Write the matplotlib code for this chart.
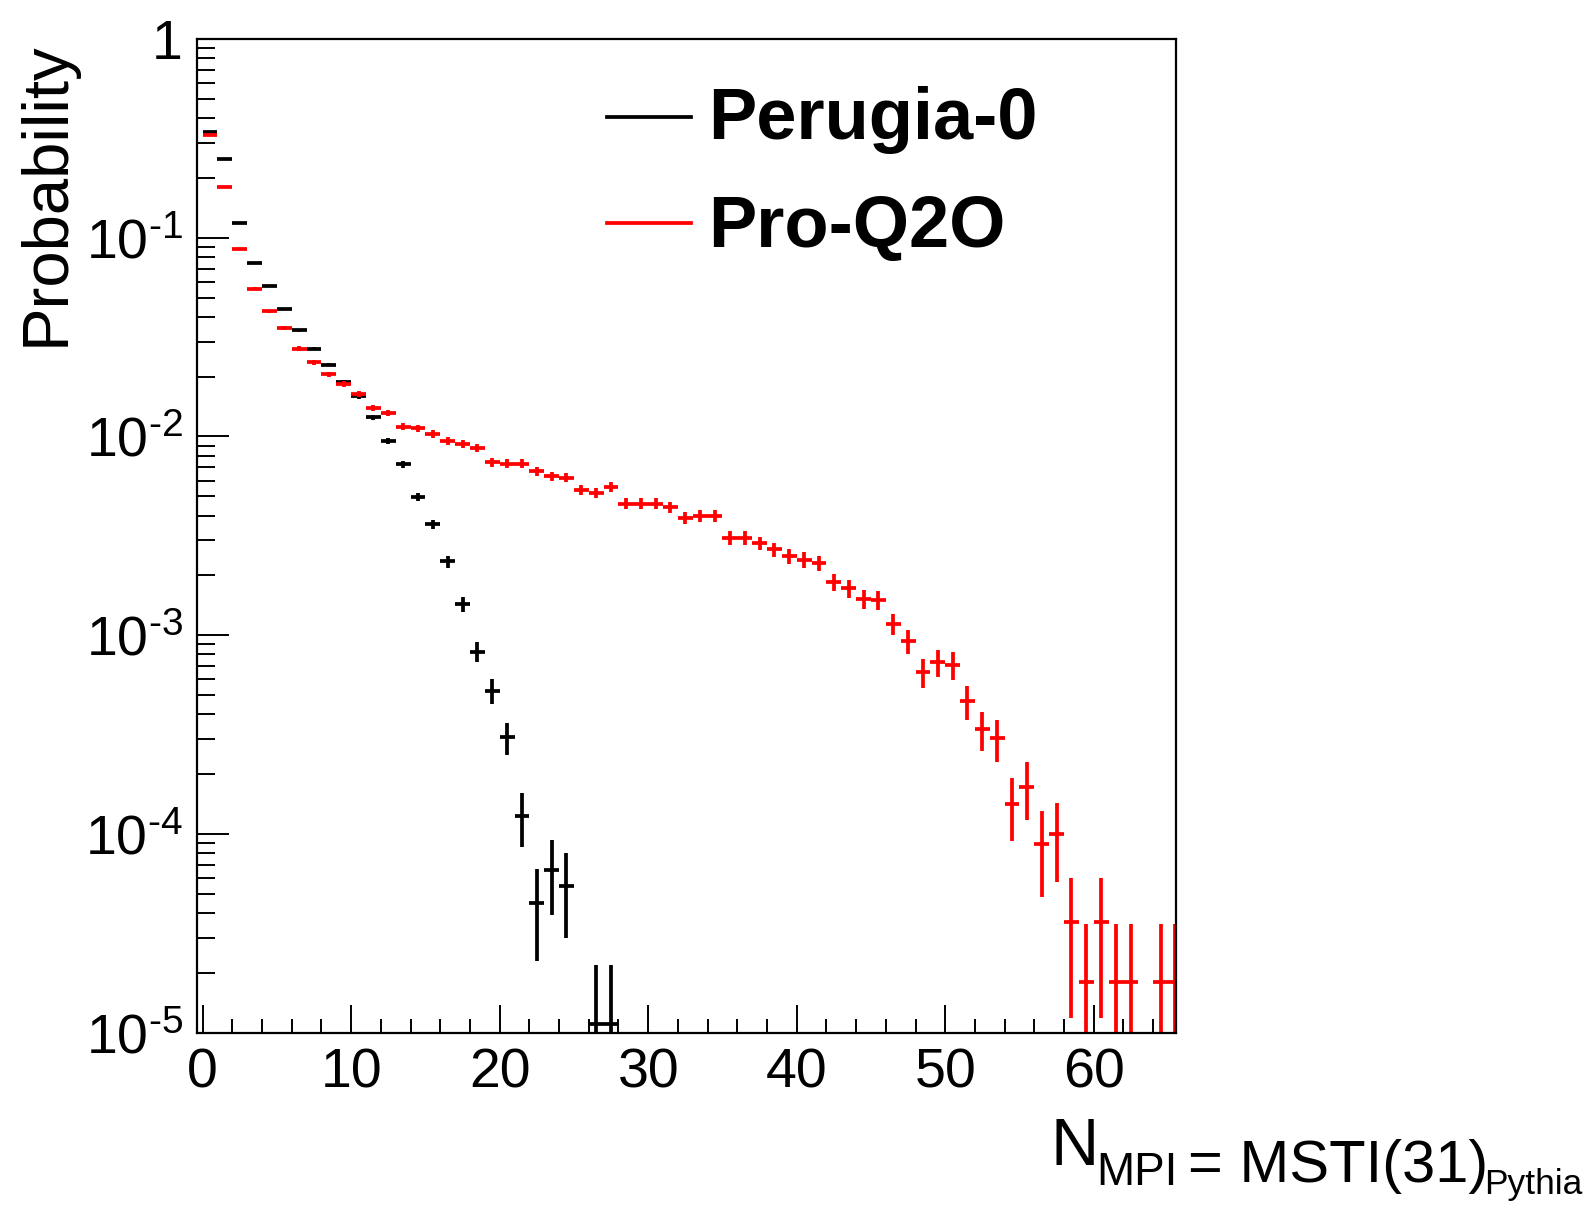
import numpy as np
import matplotlib
matplotlib.use('Agg')
import matplotlib.pyplot as plt
from matplotlib.lines import Line2D
from matplotlib.ticker import MultipleLocator, LogLocator, NullFormatter, FuncFormatter

plt.rcParams['font.family'] = ['Liberation Sans', 'DejaVu Sans']
plt.rcParams['mathtext.fontset'] = 'custom'
plt.rcParams['mathtext.rm'] = 'Liberation Sans'
plt.rcParams['mathtext.it'] = 'Liberation Sans:italic'
plt.rcParams['mathtext.bf'] = 'Liberation Sans:bold'

# Probability per N_MPI bin (bin k covers [k, k+1))
perugia = [0.339, 0.249, 0.118, 0.0747, 0.0571, 0.0438, 0.0343, 0.0277, 0.0230,
           0.0188, 0.0159, 0.0125, 0.0095, 0.00726, 0.00497, 0.00362, 0.00235,
           0.00143, 0.000827, 0.000527, 0.000306, 0.000123, 4.5e-5, 6.6e-5,
           5.5e-5, 0, 1.1e-5, 1.1e-5]
perugia_err = [1.9e-3, 1.65e-3, 1.14e-3, 9.1e-4, 7.9e-4, 6.9e-4, 6.1e-4, 5.5e-4,
               5.0e-4, 4.5e-4, 4.2e-4, 3.7e-4, 3.2e-4, 2.8e-4, 2.3e-4, 2.0e-4,
               1.6e-4, 1.25e-4, 0.95e-4, 0.76e-4, 0.55e-4, 0.37e-4, 2.2e-5, 2.7e-5,
               2.5e-5, 0, 1.1e-5, 1.1e-5]

proq2o = [0.327, 0.180, 0.0880, 0.0555, 0.0426, 0.0352, 0.0277, 0.0236, 0.0206,
          0.0184, 0.0164, 0.0139, 0.0131, 0.0112, 0.0110, 0.0103, 0.0095, 0.0092,
          0.0088, 0.0074, 0.0073, 0.0073, 0.0067, 0.0063, 0.0062, 0.0054, 0.0052,
          0.0056, 0.0046, 0.0046, 0.0046, 0.0044, 0.0039, 0.0040, 0.0040, 0.0031,
          0.0031, 0.0029, 0.0027, 0.0025, 0.0024, 0.0023, 0.00185, 0.00172,
          0.00152, 0.00150, 0.00114, 0.00093, 0.00065, 0.00073, 0.00071,
          4.66e-4, 3.36e-4, 3.03e-4, 1.42e-4, 1.73e-4, 8.9e-5, 1.0e-4, 3.59e-5,
          1.79e-5, 3.59e-5, 1.79e-5, 1.79e-5, 0, 1.79e-5, 1.79e-5]
proq2o_err = [2.4e-3, 1.8e-3, 1.25e-3, 1.0e-3, 8.7e-4, 7.9e-4, 7.0e-4, 6.5e-4,
              6.1e-4, 5.7e-4, 5.4e-4, 5.0e-4, 4.8e-4, 4.5e-4, 4.4e-4, 4.3e-4,
              4.1e-4, 4.1e-4, 4.0e-4, 3.6e-4, 3.6e-4, 3.6e-4, 3.5e-4, 3.4e-4,
              3.3e-4, 3.1e-4, 3.05e-4, 3.2e-4, 2.9e-4, 2.9e-4, 2.9e-4, 2.8e-4,
              2.6e-4, 2.7e-4, 2.7e-4, 2.4e-4, 2.4e-4, 2.3e-4, 2.2e-4, 2.1e-4,
              2.1e-4, 2.0e-4, 1.8e-4, 1.75e-4, 1.65e-4, 1.64e-4, 1.43e-4,
              1.29e-4, 1.1e-4, 1.14e-4, 1.13e-4, 0.91e-4, 0.75e-4, 0.72e-4,
              0.5e-4, 0.56e-4, 0.41e-4, 0.43e-4, 2.4e-5, 1.75e-5, 2.4e-5,
              1.75e-5, 1.75e-5, 0, 1.75e-5, 1.75e-5]

series = [('Perugia-0', perugia, perugia_err, 'black'),
          ('Pro-Q2O', proq2o, proq2o_err, '#ff0000')]

W, H = 1591, 1209
fig = plt.figure(figsize=(W / 100, H / 100), dpi=100)
ax = fig.add_axes([196.7 / W, 1 - 1032.7 / H, (1176 - 196.7) / W, (1032.7 - 39) / H])
ax.set_yscale('log')

for name, vals, errs, col in series:
    vals = np.array(vals)
    errs = np.array(errs)
    x = np.arange(len(vals)) + 0.5
    m = vals > 0
    lo = np.minimum(errs[m], vals[m] * 0.9999)
    ax.errorbar(x[m], vals[m], xerr=0.5, yerr=[lo, errs[m]], fmt='none',
                ecolor=col, elinewidth=2.7, capsize=0)

ax.set_xlim(-0.4, 65.54)
ax.set_ylim(1e-5, 1)


def ylab(v, p):
    if abs(v - 1) < 1e-9:
        return '1'
    # ROOT style: short hyphen in the exponent
    return r'$\mathregular{10^{' + '\u2010' + '%d}}$' % abs(round(np.log10(v)))


ax.xaxis.set_major_locator(MultipleLocator(10))
ax.xaxis.set_minor_locator(MultipleLocator(2))
ax.yaxis.set_major_locator(LogLocator(base=10, subs=(1.0,)))
ax.yaxis.set_minor_locator(LogLocator(base=10, subs=np.arange(2, 10)))
ax.yaxis.set_minor_formatter(NullFormatter())
ax.yaxis.set_major_formatter(FuncFormatter(ylab))

ax.tick_params(which='both', direction='in', top=False, right=False, color='black')
ax.tick_params(axis='y', which='major', length=23, width=1.4, pad=10, labelsize=40)
ax.tick_params(axis='y', which='minor', length=13, width=1.4)
ax.tick_params(axis='x', which='major', length=20, width=1.4, pad=11, labelsize=40)
ax.tick_params(axis='x', which='minor', length=10, width=1.4)
for s in ax.spines.values():
    s.set_linewidth(1.6)

# legend drawn by hand, ROOT style
fig.add_artist(Line2D([607 / W, 691 / W], [1 - 117.3 / H] * 2, color='black', lw=2.7))
fig.add_artist(Line2D([607 / W, 691 / W], [1 - 222.7 / H] * 2, color='#ff0000', lw=2.7))
fig.text(708 / W, 1 - 138.5 / H, 'Perugia-0', fontsize=52, fontweight='bold',
         ha='left', va='baseline')
fig.text(708 / W, 1 - 247 / H, 'Pro-Q2O', fontsize=52, fontweight='bold',
         ha='left', va='baseline')

# axis titles
fig.text(64 / W, 1 - 41 / H, 'Probability', rotation=90, rotation_mode='anchor',
         ha='right', va='baseline', fontsize=47)
fig.text(1051 / W, 1 - 1165 / H, 'N', fontsize=48, ha='left', va='baseline')
fig.text(1096.5 / W, 1 - 1185 / H, 'MPI', fontsize=33, ha='left', va='baseline')
fig.text(1188 / W, 1 - 1181.7 / H, '= MSTI(31)', fontsize=43, ha='left', va='baseline')
fig.text(1484 / W, 1 - 1194 / H, 'Pythia', fontsize=25.5, ha='left', va='baseline')

fig.savefig('out.png', dpi=100)
